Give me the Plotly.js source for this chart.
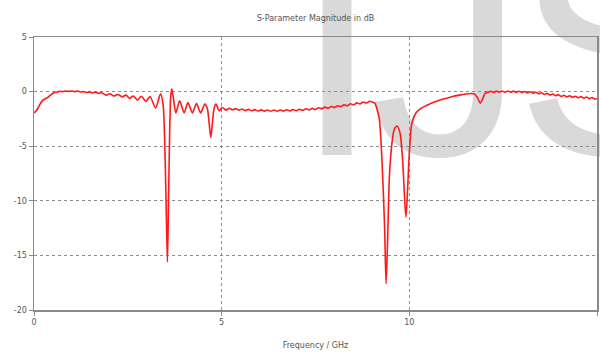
<!DOCTYPE html>
<html>
<head>
<meta charset="utf-8">
<script src="https://cdn.plot.ly/plotly-3.0.1.min.js"></script>
<style>
  html, body { margin: 0; padding: 0; background: #ffffff; }
  #wrap { position: relative; width: 600px; height: 352px; overflow: hidden; }
  #wm { position: absolute; left: 0; top: 0; }
  #chart { position: absolute; left: 0; top: 0; width: 600px; height: 352px; }
</style>
</head>
<body>
<div id="wrap">
  <svg id="wm" width="600" height="352">
    <text x="294 370 515" y="155" font-family="Liberation Sans, Arial, sans-serif" font-size="310" fill="#d9d9d9">IJS</text>
  </svg>
  <div id="chart"></div>
</div>
<script>
// Frequency in GHz
const freq = [
  0.00, 0.05, 0.10, 0.16, 0.22, 0.30, 0.38, 0.45, 0.52, 0.60,
  0.68, 0.76, 0.84, 0.92, 1.00, 1.08, 1.16, 1.24, 1.32, 1.40,
  1.48, 1.56, 1.64, 1.72, 1.80, 1.92, 2.02, 2.13, 2.24, 2.35,
  2.45, 2.55, 2.64, 2.76, 2.86, 2.98, 3.09, 3.24, 3.37, 3.44,
  3.49, 3.53, 3.555, 3.58, 3.61, 3.64, 3.67, 3.71, 3.78, 3.88,
  4.00, 4.10, 4.22, 4.33, 4.44, 4.55, 4.62, 4.67, 4.71, 4.75,
  4.80, 4.85, 4.93, 5.02, 5.12, 5.20, 5.29, 5.37, 5.46, 5.54,
  5.63, 5.71, 5.80, 5.88, 5.97, 6.05, 6.14, 6.22, 6.31, 6.39,
  6.48, 6.56, 6.65, 6.73, 6.82, 6.90, 6.99, 7.07, 7.16, 7.24,
  7.33, 7.41, 7.50, 7.58, 7.67, 7.75, 7.84, 7.92, 8.01, 8.09,
  8.18, 8.26, 8.35, 8.43, 8.52, 8.60, 8.69, 8.77, 8.86, 8.94,
  9.03, 9.08, 9.13, 9.20, 9.27, 9.34, 9.38, 9.42, 9.47, 9.54,
  9.60, 9.67, 9.75, 9.82, 9.87, 9.91, 9.95, 10.00, 10.07, 10.18,
  10.30, 10.44, 10.60, 10.80, 11.00, 11.15, 11.33, 11.50, 11.65, 11.75,
  11.82, 11.89, 11.95, 12.02, 12.10, 12.17, 12.25, 12.32, 12.40, 12.47,
  12.55, 12.62, 12.70, 12.77, 12.85, 12.92, 13.00, 13.07, 13.15, 13.22,
  13.30, 13.37, 13.45, 13.52, 13.60, 13.67, 13.75, 13.82, 13.90, 13.97,
  14.05, 14.12, 14.20, 14.27, 14.35, 14.42, 14.50, 14.57, 14.65, 14.72,
  14.80, 14.87, 14.95, 15.00
];
// S-parameter magnitude in dB
const magDb = [
  -1.95, -1.80, -1.55, -1.15, -0.85, -0.65, -0.50, -0.30, -0.12, -0.05,
   0.02,  0.00,  0.06,  0.02,  0.06,  0.00,  0.04, -0.04,  0.00, -0.08,
  -0.04, -0.12, -0.06, -0.16, -0.10, -0.32, -0.20, -0.40, -0.26, -0.48,
  -0.32, -0.62, -0.40, -0.78, -0.42, -0.90, -0.45, -1.50, -0.20, -1.20,
  -5.50, -12.0, -15.6, -11.0, -4.50, -0.60,  0.25, -0.50, -1.95, -0.85,
  -1.95, -1.00, -1.95, -1.10, -1.95, -1.15, -1.60, -3.00, -4.20, -3.00,
  -1.50, -1.15, -1.75, -1.45, -1.70, -1.52, -1.66, -1.56, -1.70, -1.60,
  -1.74, -1.63, -1.76, -1.65, -1.78, -1.67, -1.79, -1.68, -1.80, -1.68,
  -1.80, -1.68, -1.79, -1.66, -1.77, -1.64, -1.75, -1.61, -1.72, -1.57,
  -1.68, -1.53, -1.64, -1.48, -1.58, -1.42, -1.52, -1.36, -1.46, -1.29,
  -1.38, -1.20, -1.30, -1.12, -1.22, -1.03, -1.13, -0.95, -1.05, -0.88,
  -0.98, -1.05, -1.50, -2.50, -6.20, -12.3, -17.6, -13.8, -7.70, -4.60,
  -3.45, -3.15, -3.75, -6.20, -9.50, -11.5, -9.25, -5.60, -2.85, -1.93,
  -1.55, -1.30, -1.05, -0.80, -0.60, -0.45, -0.32, -0.22, -0.17, -0.25,
  -0.60, -1.05, -0.70, -0.15, -0.05,  0.03, -0.07,  0.04, -0.06,  0.05,
  -0.06,  0.05, -0.06,  0.04, -0.07,  0.03, -0.09,  0.01, -0.12, -0.02,
  -0.15, -0.06, -0.20, -0.10, -0.26, -0.16, -0.32, -0.22, -0.38, -0.28,
  -0.44, -0.34, -0.48, -0.38, -0.52, -0.42, -0.56, -0.46, -0.60, -0.50,
  -0.64, -0.55, -0.70, -0.62
];
const xTicks = [0, 5, 10, 15];
const yTicks = [5, 0, -5, -10, -15, -20];

const fontFam = 'DejaVu Sans, Verdana, sans-serif';

const trace = {
  x: freq,
  y: magDb,
  type: 'scatter',
  mode: 'lines',
  line: { color: 'rgb(255,25,25)', width: 1.6, shape: 'spline', smoothing: 0.7 },
  hoverinfo: 'skip'
};

const axisCommon = {
  showline: true,
  mirror: true,
  linecolor: '#8a8a8a',
  linewidth: 1.5,
  showgrid: true,
  gridcolor: '#8c8c8c',
  gridwidth: 1,
  griddash: 'dot',
  zeroline: false,
  ticks: 'outside',
  ticklen: 4,
  tickcolor: '#8a8a8a',
  tickfont: { family: fontFam, size: 8, color: '#555555' }
};

const layout = {
  width: 600,
  height: 352,
  margin: { l: 34, r: 3, t: 37, b: 42 },
  paper_bgcolor: 'rgba(0,0,0,0)',
  plot_bgcolor: 'rgba(0,0,0,0)',
  showlegend: false,
  title: {
    text: 'S-Parameter Magnitude in dB',
    font: { family: fontFam, size: 8, color: '#555555' },
    x: 0.5, xref: 'paper', xanchor: 'center',
    y: 1 - 18 / 352, yref: 'container', yanchor: 'middle'
  },
  xaxis: Object.assign({}, axisCommon, {
    range: [0, 15],
    tickvals: xTicks,
    ticktext: xTicks.map(String),
    title: { text: 'Frequency / GHz', font: { family: fontFam, size: 8, color: '#555555' }, standoff: 16 }
  }),
  yaxis: Object.assign({}, axisCommon, {
    range: [-20, 5],
    tickvals: yTicks,
    ticktext: yTicks.map(String)
  })
};

Plotly.newPlot('chart', [trace], layout, { staticPlot: true, displayModeBar: false });
</script>
</body>
</html>
